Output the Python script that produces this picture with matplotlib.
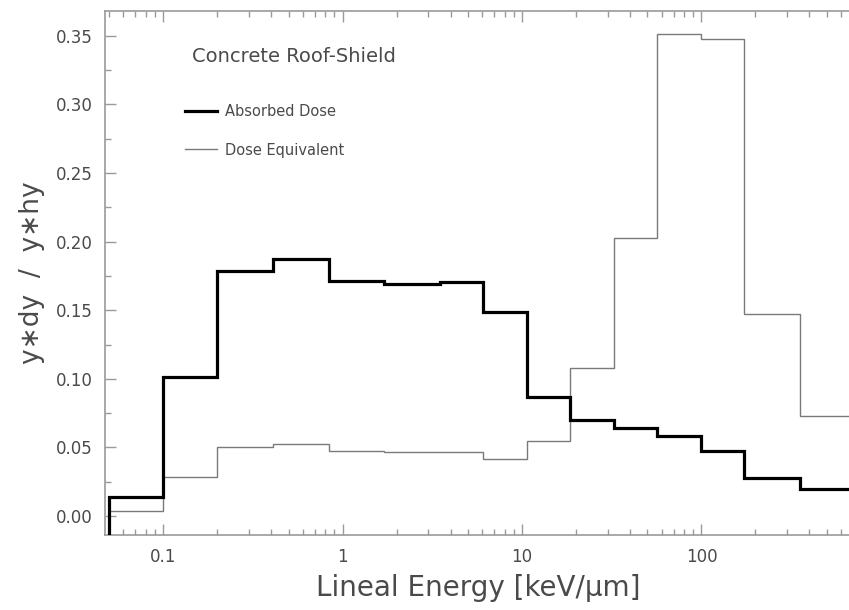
import numpy as np
import matplotlib
matplotlib.use('Agg')
import matplotlib.pyplot as plt
from matplotlib.ticker import LogLocator, MultipleLocator, FixedLocator, FixedFormatter

# bin edges in lineal energy [keV/um]
bin_edges = [0.05, 0.1, 0.2, 0.41, 0.845, 1.71, 3.5, 6.07, 10.6, 18.4,
             32.5, 56.7, 100, 173, 355, 720]

absorbed_dose = [0.0136, 0.1015, 0.1788, 0.187, 0.1713, 0.1688, 0.1703,
                 0.1487, 0.087, 0.070, 0.0644, 0.0585, 0.0476, 0.0279, 0.0194]

dose_equivalent = [0.0039, 0.0282, 0.050, 0.0525, 0.0474, 0.0466, 0.0469,
                   0.0413, 0.0544, 0.1076, 0.2026, 0.3515, 0.3477, 0.1475, 0.0729]

x_ticks = [0.1, 1, 10, 100]
x_tick_labels = ['0.1', '1', '10', '100']

TEXT_COLOR = '#4a4a4a'
AXIS_COLOR = '#9a9a9a'

W, H = 849, 610
fig = plt.figure(figsize=(W / 100, H / 100), dpi=100)
ax = fig.add_axes([105 / W, 1 - 535 / H, 1 - 105 / W + 0.002, (535 - 11) / H])

ylim = (-0.0138, 0.368)
xlim = (0.0474, 679)

ax.stairs(dose_equivalent, bin_edges, baseline=ylim[0], color='#7a7a7a',
          linewidth=1.0, label='Dose Equivalent', zorder=2)
ax.stairs(absorbed_dose, bin_edges, baseline=ylim[0], color='black',
          linewidth=2.3, label='Absorbed Dose', zorder=3)

ax.set_xscale('log')
ax.set_xlim(*xlim)
ax.set_ylim(*ylim)

ax.xaxis.set_major_locator(FixedLocator(x_ticks))
ax.xaxis.set_major_formatter(FixedFormatter(x_tick_labels))
ax.xaxis.set_minor_locator(LogLocator(base=10, subs=np.arange(2, 10)))
ax.xaxis.set_minor_formatter(plt.NullFormatter())
ax.yaxis.set_major_locator(MultipleLocator(0.05))
ax.yaxis.set_minor_locator(MultipleLocator(0.025))
ax.yaxis.set_major_formatter(plt.FuncFormatter(lambda v, p: f'{v:.2f}'))

ax.tick_params(which='both', direction='in', top=True, right=False,
               color=AXIS_COLOR, width=1.0, labelcolor=TEXT_COLOR, labelsize=12)
ax.tick_params(which='major', length=8)
ax.tick_params(which='minor', length=4)
ax.tick_params(axis='y', pad=9)
ax.tick_params(axis='x', pad=9)

for side in ['left', 'bottom', 'top']:
    ax.spines[side].set_color(AXIS_COLOR)
    ax.spines[side].set_linewidth(1.2)
ax.spines['right'].set_visible(False)

ax.set_xlabel('Lineal Energy [keV/\u03bcm]', fontsize=20, color=TEXT_COLOR, labelpad=6)
ax.set_ylabel('y\u2217dy  /  y\u2217hy', fontsize=19, color=TEXT_COLOR, labelpad=8)

fig.text(192 / W, 1 - 56 / H, 'Concrete Roof-Shield', fontsize=14,
         color=TEXT_COLOR, va='center', ha='left')

# legend placed by hand, absorbed dose on top
handles, labels = ax.get_legend_handles_labels()
ax.legend(handles[::-1], labels[::-1], loc='upper left',
          bbox_to_anchor=(0.09, 0.848), frameon=False, fontsize=10.5,
          handlelength=2.2, handletextpad=0.5, labelspacing=1.63,
          labelcolor=TEXT_COLOR)

fig.savefig('out.png', dpi=100)
